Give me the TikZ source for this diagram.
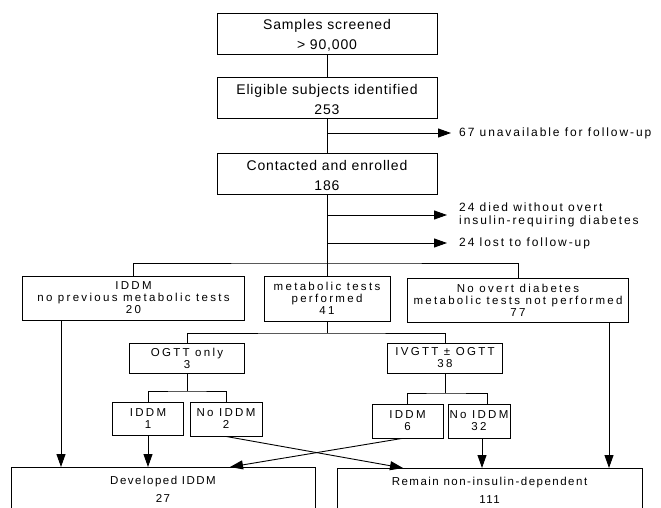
\documentclass[tikz,border=0pt]{standalone}
\usepackage{fontspec}
\setmainfont{Liberation Sans}
\newfontfamily\topfont[LetterSpace=6]{Liberation Sans}
\newfontfamily\midfont[LetterSpace=20]{Liberation Sans}
\newfontfamily\botfont[LetterSpace=13]{Liberation Sans}
\newfontfamily\sidefont[LetterSpace=16]{Liberation Sans}
\usetikzlibrary{arrows.meta}
\newcommand{\upstrut}{\rule{0pt}{14pt}}
\begin{document}
\begin{tikzpicture}[x=1pt,y=-1pt,
  box/.style={draw, line width=0.9pt, inner sep=0pt, align=center, rectangle},
  topbox/.style={box, font={\topfont\fontsize{14}{20}\selectfont}, minimum width=220pt, minimum height=41pt},
  midbox/.style={box, font={\midfont\fontsize{11.5}{12}\selectfont}},
  botbox/.style={box, anchor=north, minimum height=44pt, font={\botfont\fontsize{11.5}{18}\selectfont}},
  side/.style={anchor=west, inner sep=0pt, align=left, font={\sidefont\fontsize{12}{13}\selectfont}},
  line/.style={line width=0.9pt},
  arr/.style={line, -{Triangle[length=13pt,width=9pt]}},
]
\useasboundingbox (0,0) rectangle (661,508);
\clip (0,0) rectangle (661,508);

% top chain
\node[topbox] (samp) at (327,33.5) {\upstrut Samples screened\\> 90,000};
\node[topbox] (elig) at (327,97.5) {\upstrut Eligible subjects identified\\253};
\node[topbox] (cont) at (327,173.5) {\upstrut Contacted and enrolled\\186};

\node[side] (una) at (459,133) {67 unavailable for follow-up};
\node[side] (died) at (459,215) {24 died without overt\\insulin-requiring diabetes};
\node[side] (lost) at (459,243) {24 lost to follow-up};

% second level
\node[midbox, minimum width=222pt, minimum height=44pt] (iddm) at (133.5,298) {IDDM\\no previous metabolic tests\\20};
\node[midbox, minimum width=126pt, minimum height=45pt] (meta) at (327,298.5) {metabolic tests\\performed\\41};
\node[midbox, minimum width=221pt, minimum height=44pt] (nood) at (518,300) {No overt diabetes\\metabolic tests not performed\\77};

% third level
\node[midbox, minimum width=115pt, minimum height=30pt] (ogtt) at (187,358) {OGTT only\\3};
\node[midbox, minimum width=115pt, minimum height=30pt] (ivgtt) at (445,358) {IVGTT ± OGTT\\38};

% fourth level
\node[midbox, minimum width=71pt, minimum height=33pt] (i1) at (148,418.5) {IDDM\\1};
\node[midbox, minimum width=72pt, minimum height=34pt] (n2) at (226,419) {No IDDM\\2};
\node[midbox, minimum width=71pt, minimum height=34pt] (i6) at (407.5,421) {IDDM\\6};
\node[midbox, minimum width=62pt, minimum height=34pt] (n32) at (479,421) {No IDDM\\32};

% outcome boxes
\node[botbox, minimum width=304pt] (dev) at (163,467) {Developed IDDM\\27};
\node[botbox, minimum width=305pt] (rem) at (489.5,468) {Remain non-insulin-dependent\\111};

% branch points and column positions
\coordinate (b1) at (327,263);
\coordinate (b2) at (327,333);
\coordinate (b3) at (187,391);
\coordinate (b4) at (445,393);
\coordinate (xa) at (61,0);
\coordinate (xb) at (230,0);
\coordinate (xc) at (403,0);
\coordinate (xd) at (482,0);
\coordinate (xe) at (487,0);
\coordinate (xf) at (609,0);
\coordinate (xg) at (402,0);

% connectors
\draw[line] (samp.south) -- (elig.north);
\draw[line] (elig.south) -- (cont.north);
\draw[arr, shorten >=8pt] (elig.south |- una.west) -- (una.west);
\draw[line] (cont.south) -- (b1);
\draw[arr, shorten >=12pt] (cont.south |- died.west) -- (died.west);
\draw[arr, shorten >=12pt] (cont.south |- lost.west) -- (lost.west);
\draw[line] (iddm.north) |- (b1) -| (nood.north);
\draw[line] (b1) -- (meta.north);
\draw[line] (meta.south) -- (b2);
\draw[line] (ogtt.north) |- (b2) -| (ivgtt.north);
\draw[line] (ogtt.south) -- (b3);
\draw[line] (i1.north) |- (b3) -| (n2.north);
\draw[line] (ivgtt.south) -- (b4);
\draw[line] (i6.north) |- (b4) -| (n32.north -| xe);

\draw[arr] (iddm.south -| xa) -- (dev.north -| xa);
\draw[arr] (i1.south) -- (i1.south |- dev.north);
\draw[arr] (n2.south) -- (rem.north -| xc);
\draw[arr] (i6.south -| xg) -- (dev.north -| xb);
\draw[arr] (n32.south -| xd) -- (rem.north -| xd);
\draw[arr] (nood.south -| xf) -- (rem.north -| xf);
\end{tikzpicture}
\end{document}
